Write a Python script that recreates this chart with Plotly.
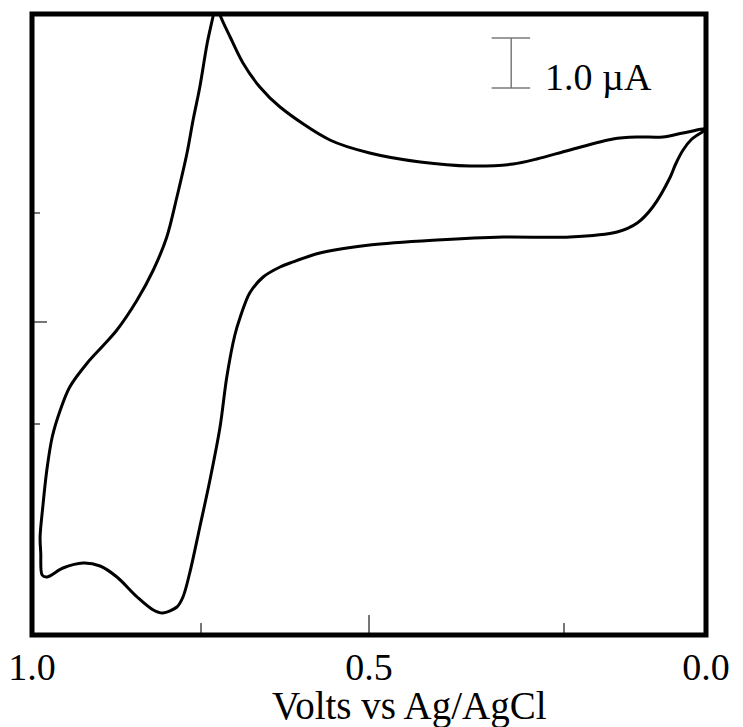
import plotly.graph_objects as go

# Cyclic voltammogram (potential in V, current in µA, arbitrary zero)
potential_V = [0.000, 0.021, 0.034, 0.045, 0.053, 0.079, 0.102, 0.132, 0.202, 0.301, 0.399, 0.499,
               0.573, 0.617, 0.632, 0.657, 0.677, 0.691, 0.699, 0.711, 0.721, 0.736,
               0.751, 0.766, 0.776, 0.785, 0.806, 0.820, 0.844, 0.874, 0.899, 0.924,
               0.954, 0.978, 0.985, 0.987, 0.988, 0.984, 0.978, 0.970, 0.958, 0.944,
               0.918, 0.895, 0.874, 0.844, 0.820, 0.800, 0.785, 0.770, 0.761, 0.751,
               0.740, 0.731, 0.727, 0.721, 0.706, 0.687, 0.662, 0.632, 0.558,
               0.499, 0.424, 0.350, 0.286, 0.251, 0.202, 0.138, 0.102, 0.064, 0.034,
               0.000]
current_uA = [10.12, 9.92, 9.70, 9.42, 9.16, 8.56, 8.24, 8.06, 7.96, 7.96, 7.90, 7.80,
              7.64, 7.44, 7.36, 7.16, 6.84, 6.36, 6.00, 5.16, 4.16, 3.10,
              2.16, 1.24, 0.76, 0.56, 0.44, 0.50, 0.76, 1.16, 1.38, 1.44,
              1.34, 1.16, 1.20, 1.64, 1.96, 2.56, 3.30, 3.96, 4.50, 4.96,
              5.44, 5.78, 6.10, 6.70, 7.30, 7.96, 8.76, 9.64, 10.30, 10.96,
              11.84, 12.40, 12.70, 12.40, 11.96, 11.44, 10.96, 10.56, 9.90,
              9.64, 9.46, 9.38, 9.42, 9.52, 9.70, 9.92, 9.96, 9.96, 10.04,
              10.12]

x_tickvals = [1.0, 0.5, 0.0]
x_ticktext = ["1.0", "0.5", "0.0"]
x_minor_ticks = [0.75, 0.21]
y_major_ticks = [6.26]
y_minor_ticks = [8.44, 4.22]

scale_bar_uA = 1.0
scale_label = "1.0 \u00b5A"
x_title = "Volts vs Ag/AgCl"

serif = "Liberation Serif, Times New Roman, serif"

fig = go.Figure()
fig.add_trace(go.Scatter(
    x=potential_V, y=current_uA, mode="lines",
    line=dict(color="black", width=3, shape="spline", smoothing=0.9),
    hoverinfo="skip", showlegend=False,
))

# frame
fig.add_shape(type="rect", xref="paper", yref="paper", x0=0, x1=1, y0=0, y1=1,
              line=dict(color="black", width=5), layer="above")

# scale bar (1.0 µA)
bx, bx0, bx1 = 0.289, 0.318, 0.261
by0 = 10.94
by1 = by0 + scale_bar_uA
bar_style = dict(color="#7a7a7a", width=1.5)
fig.add_shape(type="line", x0=bx, x1=bx, y0=by0, y1=by1, line=bar_style)
fig.add_shape(type="line", x0=bx0, x1=bx1, y0=by0, y1=by0, line=bar_style)
fig.add_shape(type="line", x0=bx0, x1=bx1, y0=by1, y1=by1, line=bar_style)
fig.add_annotation(x=0.242, y=by0 + 0.22, xref="x", yref="y", text=scale_label,
                   showarrow=False, xanchor="left", yanchor="middle",
                   font=dict(family=serif, size=38, color="black"))

# x-axis title
fig.add_annotation(x=(409 - 32) / 674, y=-(706 - 635) / 621, xref="paper", yref="paper",
                   text=x_title, showarrow=False, xanchor="center", yanchor="middle",
                   font=dict(family=serif, size=39, color="black"))

fig.update_xaxes(
    range=[1.0, 0.0], showgrid=False, zeroline=False, showline=False, automargin=False,
    tickmode="array", tickvals=x_tickvals, ticktext=x_ticktext,
    ticks="inside", ticklen=20, tickwidth=1.5, tickcolor="#777777",
    tickfont=dict(family=serif, size=38, color="black"),
    ticklabelstandoff=6, ticklabeloverflow="allow",
    minor=dict(tickmode="array", tickvals=x_minor_ticks, ticks="inside",
               ticklen=12, tickwidth=1.5, tickcolor="#777777"),
)
fig.update_yaxes(
    range=[0.0, 12.42], showgrid=False, zeroline=False, showline=False, automargin=False,
    tickmode="array", tickvals=y_major_ticks, showticklabels=False,
    ticks="inside", ticklen=15, tickwidth=1.5, tickcolor="#777777",
    minor=dict(tickmode="array", tickvals=y_minor_ticks, ticks="inside",
               ticklen=8, tickwidth=1.5, tickcolor="#777777"),
)
fig.update_layout(
    width=735, height=719,
    margin=dict(l=24, r=37, t=6, b=92),
    paper_bgcolor="white", plot_bgcolor="white",
    font=dict(family=serif, color="black"),
)
fig.write_html("out.html")
